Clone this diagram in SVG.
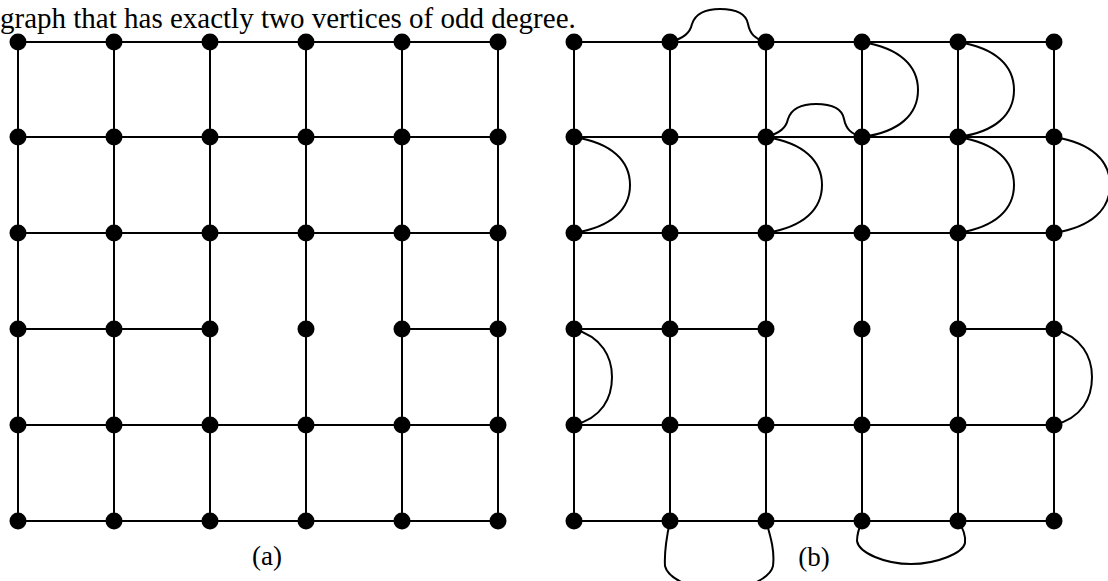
<svg xmlns="http://www.w3.org/2000/svg" width="1108" height="581" viewBox="0 0 1108 581">
<style>
.e{stroke:#000;stroke-width:2;fill:none}
.c{stroke:#000;stroke-width:2;fill:none}
.n{fill:#000}
.t{font-family:"Liberation Serif",serif;font-size:29px;fill:#000}
.l{font-family:"Liberation Serif",serif;font-size:27px;fill:#000}
</style>
<defs>
<circle id="v" r="8.5" class="n"/>
</defs>
<rect width="1108" height="581" fill="#fff"/>
<text class="t" x="0" y="28">graph that has exactly two vertices of odd degree.</text>
<g id="connectors">
<g id="edges-a" class="e">
<path d="M18,42H498M18,137H498M18,233H498M18,329H210M402,329H498M18,425H498M18,521H498"/>
<path d="M18,42V521M114,42V521M210,42V521M306,42V521M402,42V521M498,42V521"/>
</g>
<g id="edges-b" class="e">
<path d="M574,42H1054M574,137H1054M574,233H1054M574,329H766M958,329H1054M574,425H1054M574,521H1054"/>
<path d="M574,42V521M670,42V521M766,42V521M862,42V521M958,42V521M1054,42V521"/>
</g>
<g id="curves-b" class="c">
<path d="M670,42C684,38 690,33 692,24C696,12 708,9 720,9C734,9 746,13 748,24C750,34 755,39 766,42"/>
<path d="M766,137C780,133 786,128 788,119C792,107 804,104 816,104C830,104 842,108 844,119C846,129 851,134 862,137"/>
<path d="M862,42C900,48 918,66 918,90C918,114 900,132 862,137"/>
<path d="M958,42C996,48 1014,66 1014,90C1014,114 996,132 958,137"/>
<path d="M574,137C612,143 630,161 630,185C630,209 612,227 574,233"/>
<path d="M766,137C804,143 822,161 822,185C822,209 804,227 766,233"/>
<path d="M958,137C996,143 1014,161 1014,185C1014,209 996,227 958,233"/>
<path d="M1054,137C1092,143 1110,161 1110,185C1110,209 1092,227 1054,233"/>
<path d="M574,329C602,337 612,357 612,377C612,398 602,418 574,425"/>
<path d="M1054,329C1082,337 1092,357 1092,377C1092,398 1082,418 1054,425"/>
<path d="M670,521C667,535 664,550 665,566C668,580 700,592 718,592C738,592 770,580 773,566C775,550 770,535 766,521"/>
<path d="M862,521C859,528 857,534 857,541C859,553 885,564 911,564C937,564 963,553 965,543C966,534 963,528 958,521"/>
</g>
</g>
<g id="nodes-a">
<use href="#v" x="18" y="42"/><use href="#v" x="114" y="42"/><use href="#v" x="210" y="42"/><use href="#v" x="306" y="42"/><use href="#v" x="402" y="42"/><use href="#v" x="498" y="42"/>
<use href="#v" x="18" y="137"/><use href="#v" x="114" y="137"/><use href="#v" x="210" y="137"/><use href="#v" x="306" y="137"/><use href="#v" x="402" y="137"/><use href="#v" x="498" y="137"/>
<use href="#v" x="18" y="233"/><use href="#v" x="114" y="233"/><use href="#v" x="210" y="233"/><use href="#v" x="306" y="233"/><use href="#v" x="402" y="233"/><use href="#v" x="498" y="233"/>
<use href="#v" x="18" y="329"/><use href="#v" x="114" y="329"/><use href="#v" x="210" y="329"/><use href="#v" x="306" y="329"/><use href="#v" x="402" y="329"/><use href="#v" x="498" y="329"/>
<use href="#v" x="18" y="425"/><use href="#v" x="114" y="425"/><use href="#v" x="210" y="425"/><use href="#v" x="306" y="425"/><use href="#v" x="402" y="425"/><use href="#v" x="498" y="425"/>
<use href="#v" x="18" y="521"/><use href="#v" x="114" y="521"/><use href="#v" x="210" y="521"/><use href="#v" x="306" y="521"/><use href="#v" x="402" y="521"/><use href="#v" x="498" y="521"/>
</g>
<g id="nodes-b">
<use href="#v" x="574" y="42"/><use href="#v" x="670" y="42"/><use href="#v" x="766" y="42"/><use href="#v" x="862" y="42"/><use href="#v" x="958" y="42"/><use href="#v" x="1054" y="42"/>
<use href="#v" x="574" y="137"/><use href="#v" x="670" y="137"/><use href="#v" x="766" y="137"/><use href="#v" x="862" y="137"/><use href="#v" x="958" y="137"/><use href="#v" x="1054" y="137"/>
<use href="#v" x="574" y="233"/><use href="#v" x="670" y="233"/><use href="#v" x="766" y="233"/><use href="#v" x="862" y="233"/><use href="#v" x="958" y="233"/><use href="#v" x="1054" y="233"/>
<use href="#v" x="574" y="329"/><use href="#v" x="670" y="329"/><use href="#v" x="766" y="329"/><use href="#v" x="862" y="329"/><use href="#v" x="958" y="329"/><use href="#v" x="1054" y="329"/>
<use href="#v" x="574" y="425"/><use href="#v" x="670" y="425"/><use href="#v" x="766" y="425"/><use href="#v" x="862" y="425"/><use href="#v" x="958" y="425"/><use href="#v" x="1054" y="425"/>
<use href="#v" x="574" y="521"/><use href="#v" x="670" y="521"/><use href="#v" x="766" y="521"/><use href="#v" x="862" y="521"/><use href="#v" x="958" y="521"/><use href="#v" x="1054" y="521"/>
</g>
<g id="labels">
<text class="l" x="267" y="565" text-anchor="middle">(a)</text>
<text class="l" x="814" y="566" text-anchor="middle">(b)</text>
</g>
</svg>
